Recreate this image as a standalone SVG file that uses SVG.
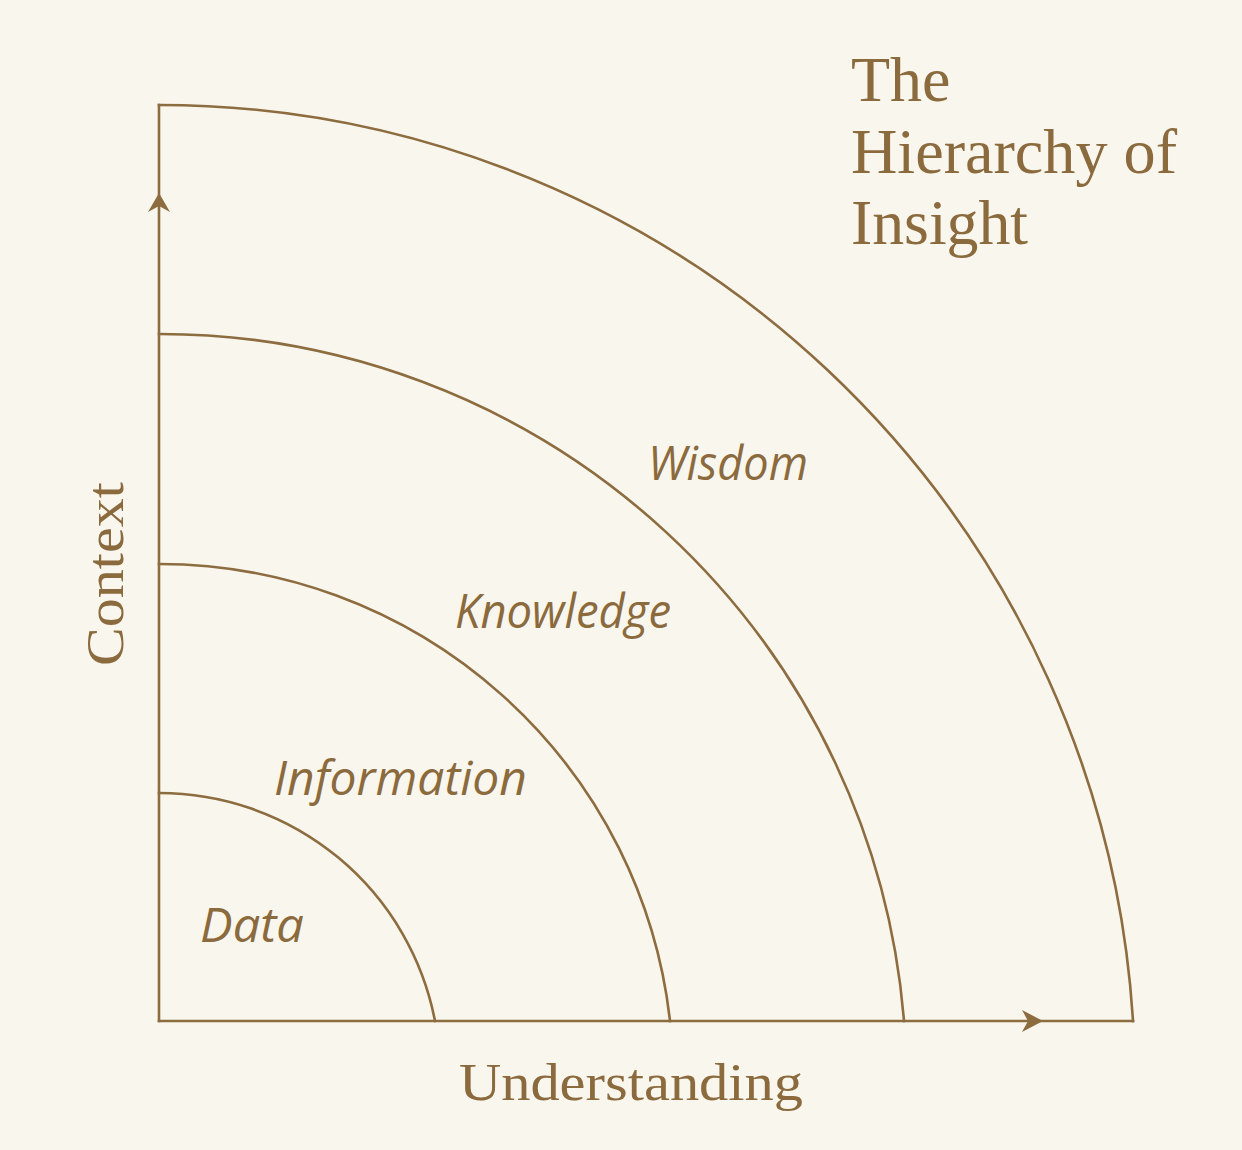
<svg xmlns="http://www.w3.org/2000/svg" width="1242" height="1150" viewBox="0 0 1242 1150">
<style>
.ln{fill:none;stroke:#8d6c3f;stroke-width:2.6;stroke-linecap:square}
.arr{fill:#8d6c3f}
.title{font-family:"Liberation Serif",serif;font-size:64px;fill:#8b6a3d}
.axis{font-family:"Liberation Serif",serif;font-size:52px;fill:#8b6a3d}
.lab{font-family:"Open Sans","Noto Sans",sans-serif;font-style:italic;font-size:47px;fill:#8b6a3d}
</style>
<rect width="1242" height="1150" fill="#f9f6ee"/>
<g id="title">
<text class="title" x="851" y="101">The</text>
<text class="title" x="851" y="173" textLength="326" lengthAdjust="spacingAndGlyphs">Hierarchy of</text>
<text class="title" x="851" y="244" textLength="177" lengthAdjust="spacingAndGlyphs">Insight</text>
</g>
<g id="connectors">
<path id="y-axis" class="ln" d="M159,1021 V105"/>
<path id="x-axis" class="ln" d="M159,1021 H1133"/>
<path class="arr" d="M159,193 L170,212 L159,206 L148,212 Z"/>
<path class="arr" d="M1043,1021 L1022,1010 L1028,1021 L1022,1032 Z"/>
</g>
<g id="data">
<path class="ln" d="M159,793 A281,281 0 0 1 435,1021"/>
<text class="lab" x="200" y="942" textLength="104" lengthAdjust="spacingAndGlyphs">Data</text>
</g>
<g id="information">
<path class="ln" d="M159,564 A514,514 0 0 1 670,1021"/>
<text class="lab" x="274" y="795" textLength="253" lengthAdjust="spacingAndGlyphs">Information</text>
</g>
<g id="knowledge">
<path class="ln" d="M159,334 A747,747 0 0 1 904,1021"/>
<text class="lab" x="455" y="628" textLength="216" lengthAdjust="spacingAndGlyphs">Knowledge</text>
</g>
<g id="wisdom">
<path class="ln" d="M159,105 A976,976 0 0 1 1133,1021"/>
<text class="lab" x="648" y="480" textLength="160" lengthAdjust="spacingAndGlyphs">Wisdom</text>
</g>
<g id="axis-labels">
<text class="axis" x="459" y="1100" textLength="344" lengthAdjust="spacingAndGlyphs">Understanding</text>
<text class="axis" transform="translate(123,666) rotate(-90)" x="0" y="0" textLength="184" lengthAdjust="spacingAndGlyphs">Context</text>
</g>
</svg>
